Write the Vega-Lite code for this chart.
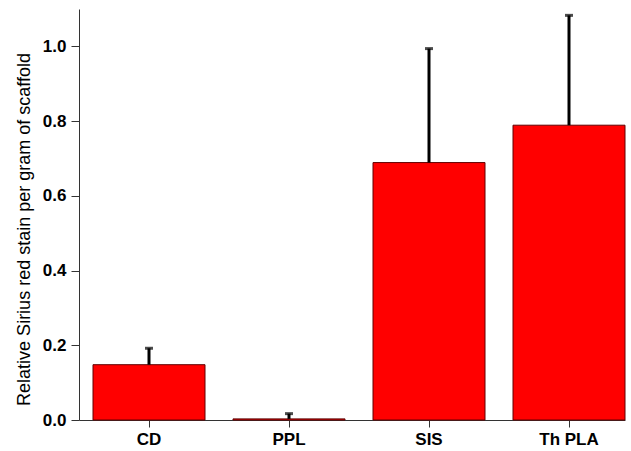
{
  "$schema": "https://vega.github.io/schema/vega-lite/v6.json",
  "width": 546,
  "height": 411,
  "autosize": "none",
  "padding": {"left": 79, "top": 9, "right": 6, "bottom": 31},
  "config": {
    "view": {"stroke": null},
    "font": "Liberation Sans",
    "axis": {"grid": false, "domainColor": "#333333", "tickColor": "#333333", "labelColor": "#000000", "titleColor": "#000000", "labelFont": "Liberation Sans", "titleFont": "Liberation Sans"}
  },
  "data": {
    "values": [
      {"group": "CD", "value": 0.148, "upper": 0.192},
      {"group": "PPL", "value": 0.003, "upper": 0.017},
      {"group": "SIS", "value": 0.689, "upper": 0.994},
      {"group": "Th PLA", "value": 0.789, "upper": 1.083}
    ]
  },
  "encoding": {
    "x": {
      "field": "group", "type": "nominal", "sort": null,
      "scale": {"paddingInner": 0.2, "paddingOuter": 0.05, "align": 1},
      "axis": {"title": null, "labelAngle": 0, "labelFontSize": 17, "labelFontWeight": "bold", "tickSize": 7, "labelPadding": 4}
    }
  },
  "layer": [
    {
      "mark": {"type": "bar", "fill": "#ff0000", "stroke": "#600000", "strokeWidth": 1},
      "encoding": {
        "y": {
          "field": "value", "type": "quantitative",
          "scale": {"domain": [0, 1.1], "nice": false},
          "axis": {"title": "Relative Sirius red stain per gram of scaffold", "titleFontSize": 18, "titleFontWeight": "normal", "titleY": 220, "values": [0, 0.2, 0.4, 0.6, 0.8, 1.0], "format": ".1f", "labelFontSize": 17, "labelFontWeight": "bold", "tickSize": 8, "labelPadding": 5, "titlePadding": 9}
        }
      }
    },
    {
      "mark": {"type": "rule", "color": "#000000", "strokeWidth": 3},
      "encoding": {"y": {"field": "value", "type": "quantitative"}, "y2": {"field": "upper"}}
    },
    {
      "mark": {"type": "tick", "color": "#000000", "thickness": 3, "size": 8, "orient": "horizontal"},
      "encoding": {"y": {"field": "upper", "type": "quantitative"}}
    }
  ]
}
